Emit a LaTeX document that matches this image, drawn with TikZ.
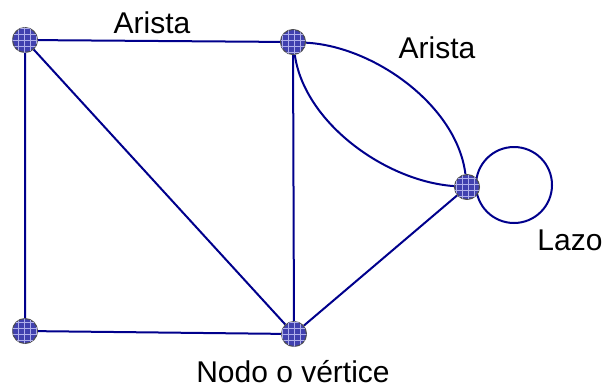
\documentclass[tikz,border=0pt]{standalone}
\usepackage{fontspec}
\setmainfont{Liberation Sans}
\usetikzlibrary{patterns,backgrounds}
\definecolor{edgecol}{RGB}{0,0,140}
\definecolor{vfill}{RGB}{65,65,175}
\definecolor{vgrid}{RGB}{175,175,235}
\begin{document}
\begin{tikzpicture}[x=.5pt,y=.5pt,font=\fontsize{15}{18}\selectfont,line join=round,line cap=round,
	vtx/.style={circle,draw=black!70,line width=.5pt,fill=vfill,minimum size=12.5pt,inner sep=0pt,
		postaction={pattern=grid,pattern color=vgrid}},
	edg/.style={draw=edgecol,line width=1pt}]
	\useasboundingbox (0,0) rectangle (609,388);
	\foreach \n/\x/\y in {A/25/348,B/293/346,C/467/201,D/294/54,E/25/57}\node[vtx] (\n) at (\x,\y) {};
	\begin{scope}[on background layer]
		\draw[edg] (A)--(B) (A)--(E) (A)--(D) (B)--(D) (E)--(D) (D)--(C);
		\draw[edg] (B) to[out=-3,in=97,looseness=.85] (C) (B) to[out=-82,in=176,looseness=.85] (C);
		\draw[edg] (C) ++(47,2) circle[radius=38];
	\end{scope}
	\node[anchor=base] (ar1) at (152,355) {Arista};
	\node[anchor=base] (ar2) at (437,330) {Arista};
	\node[anchor=base] (lz) at (570,138) {Lazo};
	\node[anchor=base] (nv) at (293,6) {Nodo o vértice};
\end{tikzpicture}
\end{document}
